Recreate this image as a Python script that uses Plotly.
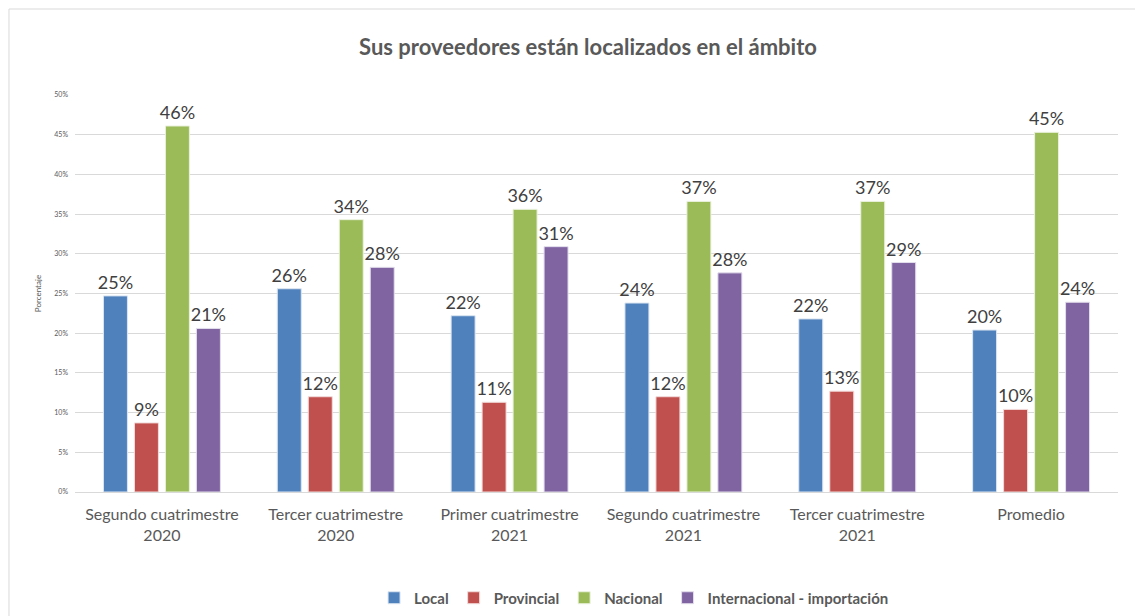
import plotly.graph_objects as go

categories = ["Segundo cuatrimestre<br>2020", "Tercer cuatrimestre<br>2020",
              "Primer cuatrimestre<br>2021", "Segundo cuatrimestre<br>2021",
              "Tercer cuatrimestre<br>2021", "Promedio"]
series_names = ["Local", "Provincial", "Nacional", "Internacional - importación"]
local = [24.7, 25.6, 22.2, 23.8, 21.8, 20.4]
provincial = [8.7, 12.0, 11.3, 12.0, 12.7, 10.4]
nacional = [46.1, 34.3, 35.6, 36.6, 36.6, 45.3]
internacional = [20.6, 28.3, 30.9, 27.6, 28.9, 23.9]
colors = ["#4F81BD", "#C0504D", "#9BBB59", "#8064A2"]
outline = ["#DCE6F2", "#F2DCDB", "#EBF1DE", "#E4DFEC"]
y_ticks = [0, 5, 10, 15, 20, 25, 30, 35, 40, 45, 50]

FONT = "Lato, 'Open Sans', sans-serif"

fig = go.Figure()
for name, vals, c, oc in zip(series_names, [local, provincial, nacional, internacional], colors, outline):
    fig.add_trace(go.Bar(
        name=f"<b>{name}</b>", x=categories, y=vals,
        marker=dict(color=c, line=dict(color=oc, width=1)),
        texttemplate="%{y:.0f}%", textposition="outside", constraintext="none",
        textfont=dict(size=18, color="#404040", family=FONT),
        cliponaxis=False,
    ))

fig.update_layout(
    width=1135, height=608,
    margin=dict(l=67, r=25, t=87, b=124, autoexpand=False),
    paper_bgcolor="white", plot_bgcolor="white",
    barmode="group", bargap=0.287, bargroupgap=0.226,
    font=dict(family=FONT, color="#595959"),
    title=dict(text="<b>Sus proveedores están localizados en el ámbito</b>",
               x=0.511, xanchor="center", y=0.936, yanchor="middle",
               font=dict(size=22, color="#595959", family=FONT)),
    legend=dict(orientation="h", x=0.536, xanchor="center", y=-0.267, yanchor="middle",
                font=dict(size=15, color="#595959", family=FONT),
                itemwidth=30, traceorder="normal"),
    showlegend=True,
)

fig.update_xaxes(tickfont=dict(size=16, color="#595959"), showline=True,
                 linecolor="#D9D9D9", linewidth=1, ticks="", ticklabelstandoff=8)
fig.update_yaxes(range=[0, 50], tickvals=y_ticks, ticktext=[f"{v}%" for v in y_ticks],
                 tickfont=dict(size=7, color="#595959"), gridcolor="#D9D9D9",
                 zeroline=False, showline=False, ticklabelstandoff=6,
                 title=dict(text="Porcentaje", font=dict(size=8, color="#595959"), standoff=11))

fig.add_shape(type="rect", xref="paper", yref="paper",
              x0=-0.0633, x1=1.04, y0=-0.4, y1=1.2166,
              line=dict(color="#D9D9D9", width=1), fillcolor="rgba(0,0,0,0)", layer="below")

fig.write_html("out.html")
